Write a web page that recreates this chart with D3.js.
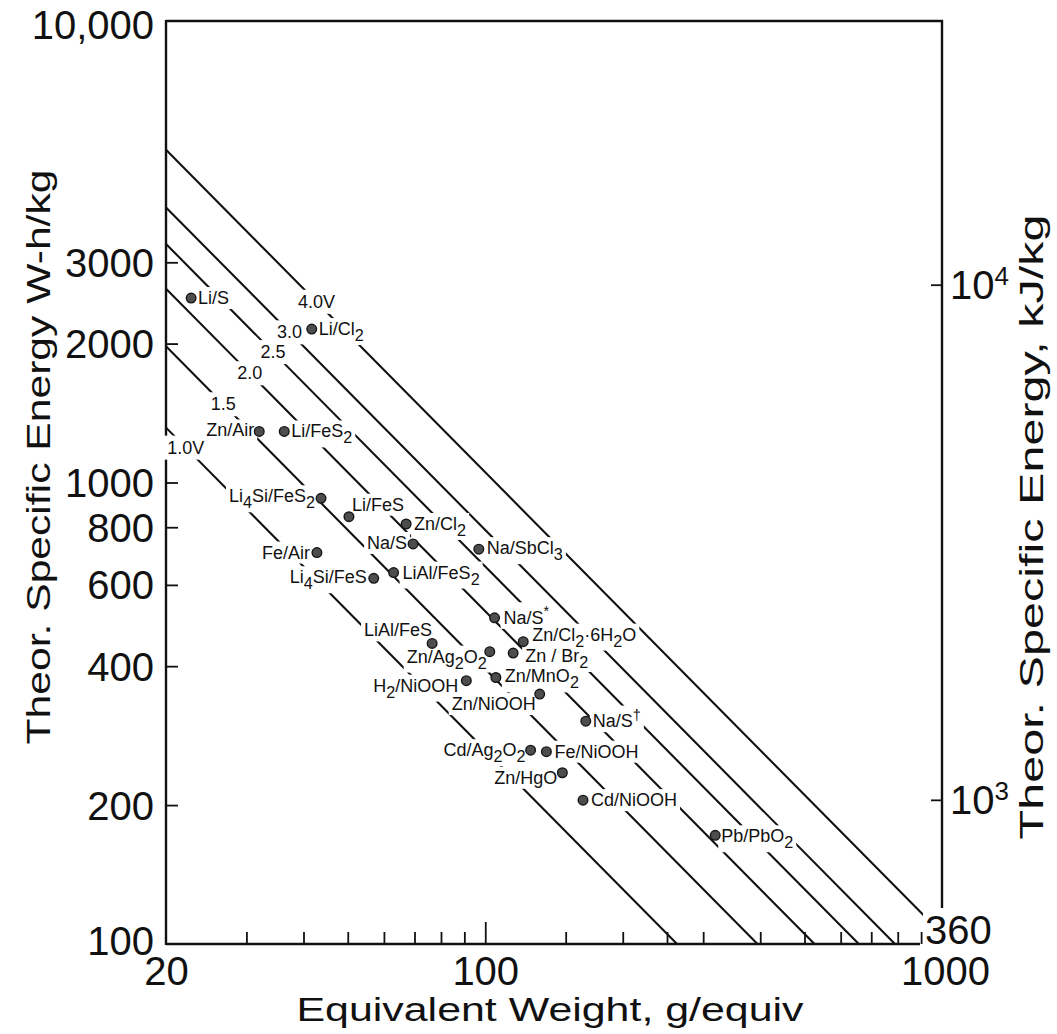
<!DOCTYPE html>
<html>
<head>
<meta charset="utf-8">
<script src="https://cdn.jsdelivr.net/npm/d3@7"></script>
<style>
  html, body { margin: 0; padding: 0; background: #fff; }
  svg { display: block; }
  text { font-family: "Liberation Sans", Arial, Helvetica, sans-serif; fill: #111; }
</style>
</head>
<body>
<svg id="chart" width="1057" height="1034"></svg>
<script>
// Theoretical specific energy of battery couples against their equivalent weight,
// with lines of constant cell voltage.

// Couples: "_x" marks a subscript character, "^x" a superscript one.
const couples = [
  "Li/S", "Li/Cl_2", "Zn/Air", "Li/FeS_2", "Li_4Si/FeS_2", "Li/FeS", "Zn/Cl_2",
  "Na/S", "Na/SbCl_3", "Fe/Air", "Li_4Si/FeS", "LiAl/FeS_2", "LiAl/FeS", "Na/S^*",
  "Zn/Cl_2·6H_2O", "Zn / Br_2", "Zn/Ag_2O_2", "H_2/NiOOH", "Zn/MnO_2", "Zn/NiOOH",
  "Na/S^†", "Cd/Ag_2O_2", "Fe/NiOOH", "Zn/HgO", "Cd/NiOOH", "Pb/PbO_2"
];
// Equivalent weight, g/equiv
const equivWeight = [
  22.7, 41.7, 32.0, 36.3, 43.7, 50.3, 67.1,
  69.5, 96.8, 42.8, 57.0, 63.0, 76.5, 104.8,
  121.1, 115.1, 102.3, 90.9, 105.5, 131.6,
  166, 125.7, 136.1, 147.5, 163.7, 318.8
];
// Theoretical specific energy, W-h/kg
const specificEnergy = [
  2510, 2150, 1290, 1290, 924, 843, 813,
  736, 717, 705, 620, 638, 448, 509,
  452, 427, 430, 372, 378, 348,
  304, 263, 261, 235, 205, 172
];

// Constant-voltage lines: E (W-h/kg) = V * whPerEquivVolt * 1000 / EW
const cellVoltages = [1.0, 1.5, 2.0, 2.5, 3.0, 4.0];
const voltageLabels = ["1.0V", "1.5", "2.0", "2.5", "3.0", "4.0V"];
const voltageLabelWeight = [22.1, 26.7, 30.5, 34.3, 37.3, 42.7];
const whPerEquivVolt = 26.3;

// Axes
const xDomain = [20, 1000];
const yDomain = [100, 10000];
const xTickValues = [20, 30, 40, 50, 60, 70, 80, 90, 100, 150, 200, 250, 300, 400, 500, 600, 700, 800, 900, 1000];
const xTickLabels = { 20: "20", 100: "100", 1000: "1000" };
const yTickValues = [100, 200, 400, 600, 800, 1000, 2000, 3000, 10000];
const yTickLabels = ["100", "200", "400", "600", "800", "1000", "2000", "3000", "10,000"];
const kjDomain = [525, 32500];
const kjTickValues = [1000, 10000];
const kjTickLabels = [["10", "3"], ["10", "4"]];
const kjCornerLabel = "360";

// Label placement around each point: [anchor, dx, dy]
const labelPlacement = {
  "Li/S": ["start", 7, 6], "Li/Cl_2": ["start", 7, 6], "Zn/Air": ["end", -5, 5],
  "Li/FeS_2": ["start", 7, 6], "Li_4Si/FeS_2": ["end", -6, 4], "Li/FeS": ["start", 3, -6],
  "Zn/Cl_2": ["start", 8, 6], "Na/S": ["end", -6, 5], "Na/SbCl_3": ["start", 8, 5],
  "Fe/Air": ["end", -7, 6], "Li_4Si/FeS": ["end", -7, 5], "LiAl/FeS_2": ["start", 9, 6],
  "LiAl/FeS": ["end", 0, -7], "Na/S^*": ["start", 9, 6], "Zn/Cl_2·6H_2O": ["start", 9, -1],
  "Zn / Br_2": ["start", 12, 9], "Zn/Ag_2O_2": ["end", -3, 11], "H_2/NiOOH": ["end", -8, 11],
  "Zn/MnO_2": ["start", 9, 5], "Zn/NiOOH": ["end", -4, 16], "Na/S^†": ["start", 7, 6],
  "Cd/Ag_2O_2": ["end", -5, 6], "Fe/NiOOH": ["start", 8, 6], "Zn/HgO": ["end", -5, 11],
  "Cd/NiOOH": ["start", 8, 6], "Pb/PbO_2": ["start", 6, 7]
};

(function draw() {
  const svg = d3.select("#chart");
  const left = 166, right = 942, plotTop = 21, plotBottom = 944;
  const labelSize = 18, tickSize = 40;

  const x = d3.scaleLog().domain(xDomain).range([left, right]);
  const y = d3.scaleLog().domain(yDomain).range([plotBottom, plotTop]);
  const yKJ = d3.scaleLog().domain(kjDomain).range([plotBottom, plotTop]);

  // Write a label with sub/superscripts into a <text>
  function richText(sel, str, size) {
    const parts = str.split(/(_.|\^.)/).filter(s => s.length);
    let shift = 0;
    parts.forEach(p => {
      let want = 0, txt = p, fs = size;
      if (p[0] === "_") { want = size * 0.33; txt = p.slice(1); fs = size * 0.9; }
      else if (p[0] === "^") { want = -size * 0.42; txt = p.slice(1); fs = size * 0.8; }
      sel.append("tspan")
        .attr("dy", want - shift)
        .attr("font-size", fs)
        .text(txt);
      shift = want;
    });
  }

  // Clip for the voltage lines
  svg.append("defs").append("clipPath").attr("id", "plotClip")
    .append("rect").attr("x", left).attr("y", plotTop)
    .attr("width", right - left).attr("height", plotBottom - plotTop);

  // Constant-voltage lines
  const lineGen = d3.line().x(d => x(d[0])).y(d => y(d[1]));
  const linesG = svg.append("g").attr("clip-path", "url(#plotClip)");
  cellVoltages.forEach(v => {
    const k = v * whPerEquivVolt * 1000;
    const ewEnd = Math.min(xDomain[1], k / yDomain[0]);
    linesG.append("path")
      .attr("d", lineGen([[xDomain[0], k / xDomain[0]], [ewEnd, k / ewEnd]]))
      .attr("fill", "none").attr("stroke", "#111").attr("stroke-width", 2.1);
  });

  // Frame
  const frame = svg.append("g").attr("fill", "none").attr("stroke", "#111").attr("stroke-width", 2.4);
  frame.append("line").attr("x1", left).attr("x2", left).attr("y1", plotTop - 1).attr("y2", plotBottom + 1);
  frame.append("line").attr("x1", left).attr("x2", right + 1).attr("y1", plotTop).attr("y2", plotTop);
  frame.append("line").attr("x1", right).attr("x2", right).attr("y1", plotTop - 1).attr("y2", plotBottom - 29);
  frame.append("line").attr("x1", left).attr("x2", right - 22).attr("y1", plotBottom).attr("y2", plotBottom);

  // Bottom axis
  const xAxis = d3.axisBottom(x)
    .tickValues(xTickValues)
    .tickSizeInner(-12).tickSizeOuter(0).tickPadding(13)
    .tickFormat(d => xTickLabels[d] || "");
  const gx = svg.append("g").attr("transform", `translate(0,${plotBottom})`).call(xAxis);
  gx.select(".domain").remove();
  gx.selectAll(".tick line").attr("stroke", "#111").attr("stroke-width", 1.8)
    .attr("y2", d => d === 100 ? -22 : -12)
    .attr("display", d => (d === 1000 || d === 20) ? "none" : null);
  gx.selectAll(".tick text").attr("font-size", tickSize).attr("fill", "#111")
    .attr("font-family", "'Liberation Sans', Arial, sans-serif")
    .attr("dx", d => d === 1000 ? 3 : 0);

  // Left axis (W-h/kg)
  const yAxis = d3.axisLeft(y)
    .tickValues(yTickValues)
    .tickSizeInner(-12).tickSizeOuter(0).tickPadding(12)
    .tickFormat((d, i) => yTickLabels[i]);
  const gy = svg.append("g").attr("transform", `translate(${left},0)`).call(yAxis);
  gy.select(".domain").remove();
  gy.selectAll(".tick line").attr("stroke", "#111").attr("stroke-width", 1.8)
    .attr("display", d => (d === 100 || d === 10000) ? "none" : null);
  gy.selectAll(".tick text").attr("font-size", tickSize).attr("fill", "#111")
    .attr("font-family", "'Liberation Sans', Arial, sans-serif")
    .attr("dy", d => d === 10000 ? "0.43em" : (d === 100 ? "0.25em" : "0.35em"));

  // Right axis (kJ/kg)
  const yAxisR = d3.axisRight(yKJ)
    .tickValues(kjTickValues)
    .tickSizeInner(-11).tickSizeOuter(0).tickPadding(8)
    .tickFormat(() => "");
  const gr = svg.append("g").attr("transform", `translate(${right},0)`).call(yAxisR);
  gr.select(".domain").remove();
  gr.selectAll(".tick line").attr("stroke", "#111").attr("stroke-width", 1.8);
  gr.selectAll(".tick text").each(function (d, i) {
    const t = d3.select(this).attr("font-size", tickSize).attr("fill", "#111")
      .attr("font-family", "'Liberation Sans', Arial, sans-serif")
      .attr("dy", "0.35em");
    t.append("tspan").text(kjTickLabels[i][0]);
    t.append("tspan").attr("font-size", 26).attr("dy", -14).text(kjTickLabels[i][1]);
  });

  // Backgrounds are drawn first, so labels cut gaps into the lines
  const bgG = svg.append("g");
  const textG = svg.append("g");

  function labelWithBackground(tx, ty, anchor, str, size, pad) {
    const t = textG.append("text")
      .attr("x", tx).attr("y", ty)
      .attr("text-anchor", anchor)
      .attr("font-size", size);
    richText(t, str, size);
    const b = t.node().getBBox();
    bgG.append("rect")
      .attr("x", b.x - pad).attr("y", b.y - pad + 2)
      .attr("width", b.width + 2 * pad).attr("height", b.height + 2 * pad - 4)
      .attr("fill", "#fff");
    return t;
  }

  // Corner label at the foot of the kJ/kg axis
  labelWithBackground(right - 17, plotBottom, "start", kjCornerLabel, tickSize, 2);

  // Voltage labels on their lines
  cellVoltages.forEach((v, i) => {
    const ew = voltageLabelWeight[i];
    const e = v * whPerEquivVolt * 1000 / ew;
    labelWithBackground(x(ew), y(e) + 6, "middle", voltageLabels[i], labelSize, 4);
  });

  // Point labels
  couples.forEach((c, i) => {
    const [anchor, dx, dy] = labelPlacement[c];
    labelWithBackground(x(equivWeight[i]) + dx, y(specificEnergy[i]) + dy, anchor, c, labelSize, 3);
  });

  // Points
  svg.append("g").selectAll("circle")
    .data(couples.map((c, i) => [equivWeight[i], specificEnergy[i]]))
    .join("circle")
    .attr("cx", d => x(d[0])).attr("cy", d => y(d[1]))
    .attr("r", 4.8)
    .attr("fill", "#4d4d4d").attr("stroke", "#161616").attr("stroke-width", 1.4);

  // Axis titles
  svg.append("text")
    .attr("x", 550).attr("y", 1021)
    .attr("text-anchor", "middle")
    .attr("font-size", 33)
    .attr("textLength", 507).attr("lengthAdjust", "spacingAndGlyphs")
    .text("Equivalent Weight, g/equiv");

  svg.append("text")
    .attr("transform", "translate(50,457) rotate(-90)")
    .attr("text-anchor", "middle")
    .attr("font-size", 33)
    .attr("textLength", 575).attr("lengthAdjust", "spacingAndGlyphs")
    .text("Theor. Specific Energy W-h/kg");

  svg.append("text")
    .attr("transform", "translate(1043,527) rotate(-90)")
    .attr("text-anchor", "middle")
    .attr("font-size", 33)
    .attr("textLength", 625).attr("lengthAdjust", "spacingAndGlyphs")
    .text("Theor. Specific Energy, kJ/kg");
})();
</script>
</body>
</html>
